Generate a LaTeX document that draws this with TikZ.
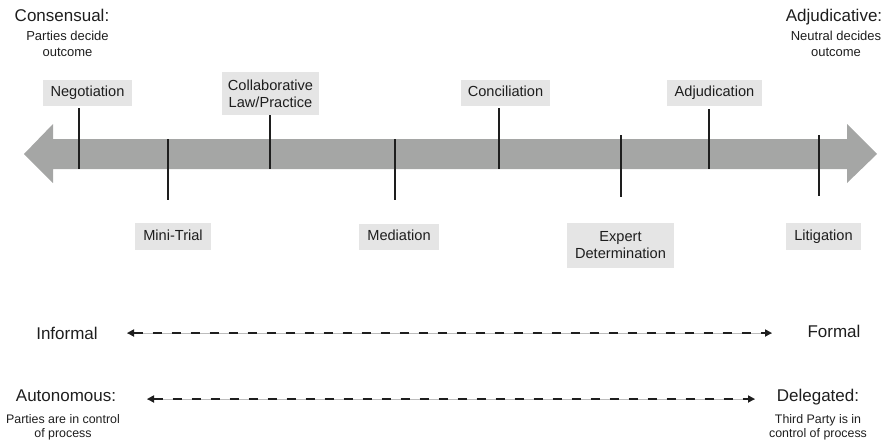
\documentclass[tikz,border=0pt]{standalone}
\usepackage{fontspec}
\setmainfont{Liberation Sans}
\usetikzlibrary{arrows.meta}
\definecolor{bargray}{HTML}{A5A6A5}
\definecolor{boxgray}{HTML}{E5E5E5}
\definecolor{ink}{HTML}{1E1E1E}
\definecolor{railgray}{HTML}{BDBDBD}
\begin{document}
\begin{tikzpicture}[x=1pt,y=-1pt,
  heading/.style={font=\fontsize{17}{20}\selectfont, text=ink, inner sep=0pt, anchor=base},
  subnote/.style={font=\fontsize{13}{16.5}\selectfont, text=ink, inner sep=0pt, anchor=base, align=center},
  subnotesm/.style={font=\fontsize{12.4}{13.3}\selectfont, text=ink, inner sep=0pt, anchor=base, align=center},
  procbox/.style={fill=boxgray, text=ink, inner sep=0pt, align=center,
    font=\fontsize{14.6}{17}\selectfont},
  oneline/.style={procbox, text height=10.6pt, text depth=3pt},
  tickline/.style={line width=2.2pt, draw=ink},
  rail/.style={draw=railgray, line width=1pt},
  dashline/.style={draw=ink, line width=2.8pt, dash pattern=on 9pt off 10pt,
    {Triangle[length=7pt,width=7pt]}-{Triangle[length=7pt,width=7pt]}}]
\path[use as bounding box] (0,0) rectangle (887,445);

% the spectrum arrow
\fill[bargray] (24,154) -- (53,124) -- (53,139) -- (847,139) -- (847,124)
  -- (877,154) -- (847,183) -- (847,169) -- (53,169) -- (53,183) -- cycle;

% end headings (multi-line notes sit on the baseline of their last line)
\node[heading] (consensual) at (62,21) {Consensual:};
\node[subnote] (consnote) at (67.5,56.5) {Parties decide\\outcome};
\node[heading] (adjudicative) at (834,21) {Adjudicative:};
\node[subnote] (adjnote) at (836,56.5) {Neutral decides\\outcome};

% processes above the bar
\node[oneline, minimum width=89pt, minimum height=26pt] (negotiation) at (87.5,93) {Negotiation};
\node[procbox, minimum width=97pt, minimum height=43pt] (collab) at (270.5,93.5) {Collaborative\\Law/Practice};
\node[oneline, minimum width=89pt, minimum height=26pt] (conciliation) at (505.5,93) {Conciliation};
\node[oneline, minimum width=95pt, minimum height=26pt] (adjudication) at (714.5,93) {Adjudication};

% processes below the bar
\node[oneline, minimum width=76pt, minimum height=27pt] (minitrial) at (173,236.5) {Mini-Trial};
\node[oneline, minimum width=80pt, minimum height=26pt] (mediation) at (399,237) {Mediation};
\node[procbox, minimum width=107pt, minimum height=45pt] (expert) at (620.5,245.5) {Expert\\Determination};
\node[oneline, minimum width=75pt, minimum height=27pt] (litigation) at (823.5,236.5) {Litigation};

% position marks on the bar
\coordinate (t1a) at (79,108);  \coordinate (t1b) at (79,169);
\coordinate (t2a) at (168,139); \coordinate (t2b) at (168,200);
\coordinate (t3a) at (270,115); \coordinate (t3b) at (270,169);
\coordinate (t4a) at (395,139); \coordinate (t4b) at (395,200);
\coordinate (t5a) at (499,108); \coordinate (t5b) at (499,169);
\coordinate (t6a) at (621,135); \coordinate (t6b) at (621,197);
\coordinate (t7a) at (709,109); \coordinate (t7b) at (709,169);
\coordinate (t8a) at (819,135); \coordinate (t8b) at (819,196);
\foreach \i in {1,...,8} { \draw[tickline] (t\i a) -- (t\i b); }

% formality scale
\node[heading] (informal) at (67,339.5) {Informal};
\node[heading] (formal) at (834,337.5) {Formal};
\coordinate (infL) at (127,333);
\coordinate (infR) at (772,333);
\draw[rail] (infL) -- (infR);
\draw[dashline] (infL) -- (infR);

% control scale
\node[heading] (autonomous) at (66,401.5) {Autonomous:};
\node[subnotesm] (autnote) at (63,437) {Parties are in control\\of process};
\node[heading] (delegated) at (818,401.5) {Delegated:};
\node[subnotesm] (delnote) at (818,437) {Third Party is in\\control of process};
\coordinate (autL) at (147,399);
\coordinate (autR) at (755,399);
\draw[rail] (autL) -- (autR);
\draw[dashline] (autL) -- (autR);
\end{tikzpicture}
\end{document}
